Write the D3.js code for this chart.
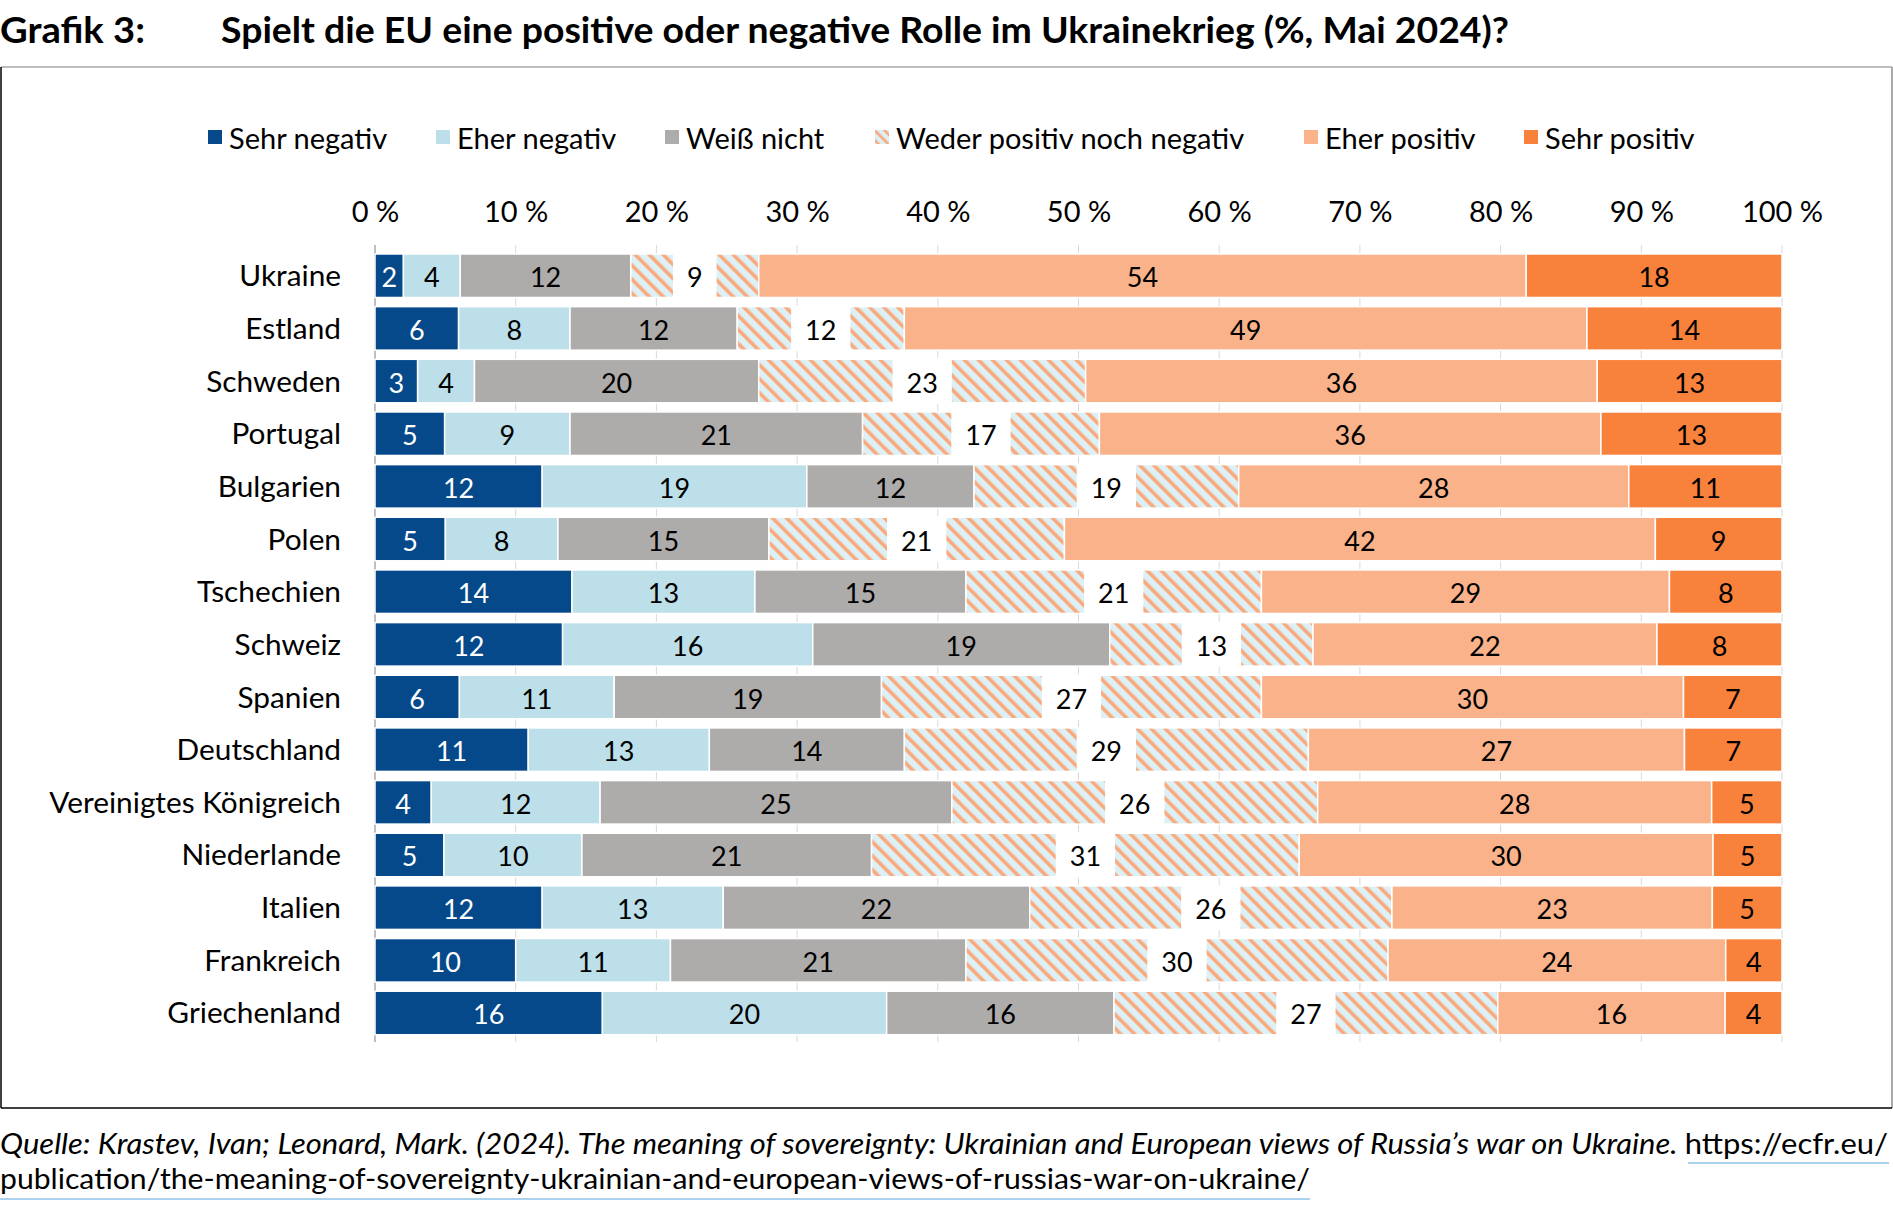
<!DOCTYPE html>
<html><head><meta charset="utf-8">
<script src="https://cdn.jsdelivr.net/npm/d3@7/dist/d3.min.js"></script>
<style>
html,body{margin:0;padding:0;background:#fff;}
svg{display:block;font-family:Lato,"Noto Sans",sans-serif;}
</style></head><body>
<svg id="c" width="1893" height="1208"></svg>
<script>
const categories = ["Ukraine","Estland","Schweden","Portugal","Bulgarien","Polen","Tschechien","Schweiz","Spanien","Deutschland","Vereinigtes Königreich","Niederlande","Italien","Frankreich","Griechenland"];
const seriesNames = ["Sehr negativ","Eher negativ","Weiß nicht","Weder positiv noch negativ","Eher positiv","Sehr positiv"];
const sehrNegativ  = [2,6,3,5,12,5,14,12,6,11,4,5,12,10,16];
const eherNegativ  = [4,8,4,9,19,8,13,16,11,13,12,10,13,11,20];
const weissNicht   = [12,12,20,21,12,15,15,19,19,14,25,21,22,21,16];
const weder        = [9,12,23,17,19,21,21,13,27,29,26,31,26,30,27];
const eherPositiv  = [54,49,36,36,28,42,29,22,30,27,28,30,23,24,16];
const sehrPositiv  = [18,14,13,13,11,9,8,8,7,7,5,5,5,4,4];
const tickValues = [0,10,20,30,40,50,60,70,80,90,100];
const tickLabels = ["0 %","10 %","20 %","30 %","40 %","50 %","60 %","70 %","80 %","90 %","100 %"];

const colors = ["#05498a","#bcdfea","#aeabab","url(#hatch)","#fab28a","#f8813c"];
const labelColors = ["#fff","#000","#000","#000","#000","#000"];
const series = [sehrNegativ,eherNegativ,weissNicht,weder,eherPositiv,sehrPositiv];

const svg = d3.select("#c");
const defs = svg.append("defs");
const P = 9.9;
const pat = defs.append("pattern").attr("id","hatch").attr("patternUnits","userSpaceOnUse")
  .attr("width",P).attr("height",P).attr("patternTransform","rotate(-45)");
pat.append("rect").attr("width",P).attr("height",P).attr("fill","#dcf0f6");
pat.append("rect").attr("x",0).attr("width",3.6).attr("height",P).attr("fill","#f9a97c");
const pat2 = defs.append("pattern").attr("id","hatchL").attr("patternUnits","userSpaceOnUse")
  .attr("width",7).attr("height",7).attr("patternTransform","rotate(-45)");
pat2.append("rect").attr("width",7).attr("height",7).attr("fill","#dcf0f6");
pat2.append("rect").attr("width",2.6).attr("height",7).attr("fill","#f9a97c");

// frame
svg.append("line").attr("x1",1).attr("x2",1892).attr("y1",67).attr("y2",67).attr("stroke","#a9a9a9").attr("stroke-width",1.5);
svg.append("line").attr("x1",1892).attr("x2",1892).attr("y1",67).attr("y2",1108).attr("stroke","#8c8c8c").attr("stroke-width",1.5);
svg.append("line").attr("x1",1).attr("x2",1).attr("y1",67).attr("y2",1108).attr("stroke","#000").attr("stroke-width",1.5);
svg.append("line").attr("x1",1).attr("x2",1892).attr("y1",1108).attr("y2",1108).attr("stroke","#000").attr("stroke-width",1.5);

// title
svg.append("text").attr("x",0).attr("y",43).attr("font-weight","bold").attr("font-size",36)
  .attr("textLength",145).attr("lengthAdjust","spacingAndGlyphs").text("Grafik 3:");
svg.append("text").attr("x",221).attr("y",43).attr("font-weight","bold").attr("font-size",36)
  .attr("textLength",1288).attr("lengthAdjust","spacingAndGlyphs")
  .text("Spielt die EU eine positive oder negative Rolle im Ukrainekrieg (%, Mai 2024)?");

const x = d3.scaleLinear().domain([0,100]).range([375,1782]);
const y = d3.scaleBand().domain(categories).range([249.4,1039.3]).paddingInner(0.174).paddingOuter(0.087);

// gridlines
svg.append("g").selectAll("line").data(tickValues.slice(1)).join("line")
  .attr("x1",d=>x(d)).attr("x2",d=>x(d)).attr("y1",245).attr("y2",1042)
  .attr("stroke","#d9d9d9").attr("stroke-width",1);

// axis
const axis = d3.axisTop(x).tickValues(tickValues).tickFormat((d,i)=>tickLabels[i]).tickSize(0).tickPadding(0);
const ag = svg.append("g").attr("transform","translate(0,222)").call(axis);
ag.select(".domain").remove();
ag.selectAll("text").attr("font-size",29).attr("font-family","Lato").attr("fill","#000");

// left axis line
svg.append("line").attr("x1",x(0)).attr("x2",x(0)).attr("y1",245).attr("y2",1042).attr("stroke","#bfbfbf").attr("stroke-width",2);

// data rows
const rows = categories.map((c,i)=>{
  const vals = series.map(s=>s[i]);
  const total = d3.sum(vals);
  let cum = 0;
  const segs = vals.map((v,k)=>{ const s={k,v,x0:cum/total*100,x1:(cum+v)/total*100}; cum+=v; return s; });
  return {c,segs};
});

const g = svg.append("g");
rows.forEach(r=>{
  const yy = y(r.c), h = y.bandwidth();
  const rg = g.append("g");
  rg.selectAll("rect").data(r.segs).join("rect")
    .attr("x",d=>x(d.x0)).attr("width",d=>x(d.x1)-x(d.x0))
    .attr("y",yy).attr("height",h)
    .attr("fill",d=>colors[d.k]).attr("stroke","#fff").attr("stroke-width",1.5);
  r.segs.forEach(d=>{
    const cx = (x(d.x0)+x(d.x1))/2;
    const t = rg.append("text").attr("x",cx).attr("y",yy+h/2+1).attr("text-anchor","middle")
      .attr("dominant-baseline","central").attr("font-size",27).attr("fill",labelColors[d.k]).text(d.v);
    if(d.k===3){
      const w = t.node().getComputedTextLength()+28;
      rg.insert("rect","text").attr("x",cx-w/2).attr("width",w).attr("y",yy-1).attr("height",h+2).attr("fill","#fff");
    }
  });
});

// country labels
svg.append("g").selectAll("text").data(categories).join("text")
  .attr("x",341).attr("y",d=>y(d)+y.bandwidth()/2-1).attr("text-anchor","end")
  .attr("dominant-baseline","central").attr("font-size",29.8).text(d=>d);

// legend
const legX = [208,436,665,875,1304,1524];
const lg = svg.append("g");
seriesNames.forEach((n,i)=>{
  lg.append("rect").attr("x",legX[i]).attr("y",130).attr("width",14).attr("height",14)
    .attr("fill", i===3 ? "url(#hatchL)" : colors[i]);
  lg.append("text").attr("x",legX[i]+21).attr("y",137).attr("dominant-baseline","central").attr("font-size",29).text(n);
});

// footer
const f1 = svg.append("text").attr("x",0).attr("y",1154).attr("font-size",28);
f1.append("tspan").attr("font-style","italic").text("Quelle: Krastev, Ivan; Leonard, Mark. (2024). The meaning of sovereignty: Ukrainian and European views of Russia’s war on Ukraine. ");
f1.append("tspan").text("https://ecfr.eu/");
f1.attr("textLength",1888).attr("lengthAdjust","spacingAndGlyphs");
svg.append("text").attr("x",0).attr("y",1189).attr("font-size",28)
  .attr("textLength",1310).attr("lengthAdjust","spacingAndGlyphs")
  .text("publication/the-meaning-of-sovereignty-ukrainian-and-european-views-of-russias-war-on-ukraine/");
// underlines
svg.append("line").attr("x1",0).attr("x2",1310).attr("y1",1199).attr("y2",1199).attr("stroke","#8ec3e6").attr("stroke-width",1.5);
svg.append("line").attr("x1",1688).attr("x2",1889).attr("y1",1163).attr("y2",1163).attr("stroke","#8ec3e6").attr("stroke-width",1.5);
</script></body></html>
